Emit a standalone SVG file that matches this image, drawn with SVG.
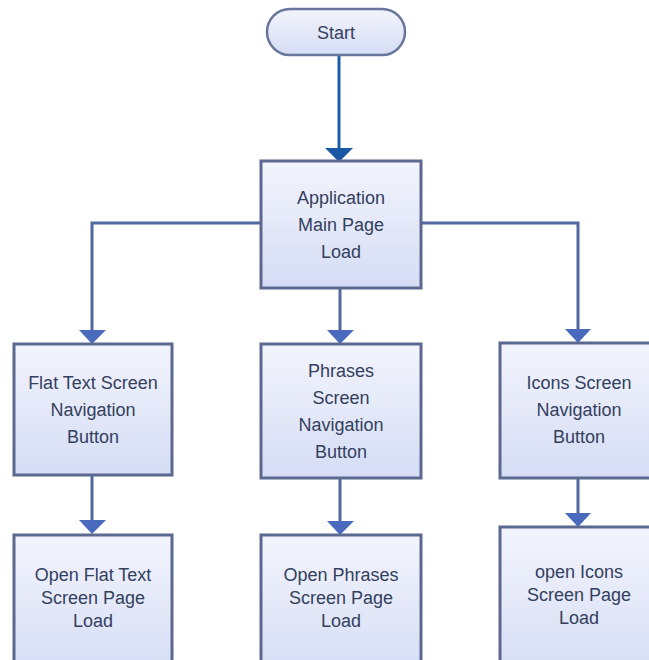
<svg xmlns="http://www.w3.org/2000/svg" width="649" height="660" viewBox="0 0 649 660">
  <defs>
    <linearGradient id="boxFill" x1="0" y1="0" x2="0" y2="1">
      <stop offset="0" stop-color="#f3f4fc"/>
      <stop offset="1" stop-color="#d5ddf5"/>
    </linearGradient>
    <style>
      .box { fill: url(#boxFill); stroke: #5b6890; stroke-width: 3; }
      .term { fill: url(#boxFill); stroke: #69769c; stroke-width: 2.5; }
      .lbl { font-family: "Liberation Sans", Arial, sans-serif; font-size: 18px; fill: #33405e; text-anchor: middle; }
      .wire { fill: none; stroke: #52689f; stroke-width: 3; }
      .head { fill: #4a6bbd; }
      .wire-dark { fill: none; stroke: #1f5ca6; stroke-width: 3; }
      .head-dark { fill: #1b58a4; }
    </style>
  </defs>
  <rect width="649" height="660" fill="#ffffff"/>

  <g id="connectors">
    <!-- start to main page -->
    <line class="wire-dark" x1="339" y1="55" x2="339" y2="150"/>
    <polygon class="head-dark" points="325,148 353,148 339,162"/>
    <!-- main page to the three navigation buttons -->
    <line class="wire" x1="340" y1="288" x2="340" y2="332"/>
    <polygon class="head" points="327,330 354,330 340,344"/>
    <polyline class="wire" points="261,223 92,223 92,332"/>
    <polygon class="head" points="79,330 106,330 92,344"/>
    <polyline class="wire" points="421,223 578,223 578,331"/>
    <polygon class="head" points="565,329 591,329 578,343"/>
    <!-- navigation buttons to page loads -->
    <line class="wire" x1="92" y1="475" x2="92" y2="522"/>
    <polygon class="head" points="79,520 106,520 92,534"/>
    <line class="wire" x1="340" y1="478" x2="340" y2="523"/>
    <polygon class="head" points="327,521 354,521 340,535"/>
    <line class="wire" x1="578" y1="478" x2="578" y2="515"/>
    <polygon class="head" points="565,513 591,513 578,527"/>
  </g>

  <g id="start">
    <rect class="term" x="267" y="9" width="138" height="46" rx="23" ry="23"/>
    <text class="lbl" x="336" y="39">Start</text>
  </g>

  <g id="main-page">
    <rect class="box" x="261" y="161" width="160" height="127"/>
    <text class="lbl" x="341" y="204"><tspan x="341">Application</tspan><tspan x="341" dy="27">Main Page</tspan><tspan x="341" dy="27">Load</tspan></text>
  </g>

  <g id="flat-text-nav">
    <rect class="box" x="14" y="344" width="158" height="131"/>
    <text class="lbl" x="93" y="389"><tspan x="93">Flat Text Screen</tspan><tspan x="93" dy="27">Navigation</tspan><tspan x="93" dy="27">Button</tspan></text>
  </g>

  <g id="phrases-nav">
    <rect class="box" x="261" y="344" width="160" height="134"/>
    <text class="lbl" x="341" y="377"><tspan x="341">Phrases</tspan><tspan x="341" dy="27">Screen</tspan><tspan x="341" dy="27">Navigation</tspan><tspan x="341" dy="27">Button</tspan></text>
  </g>

  <g id="icons-nav">
    <rect class="box" x="500" y="343" width="160" height="135"/>
    <text class="lbl" x="579" y="389"><tspan x="579">Icons Screen</tspan><tspan x="579" dy="27">Navigation</tspan><tspan x="579" dy="27">Button</tspan></text>
  </g>

  <g id="flat-text-open">
    <rect class="box" x="14" y="535" width="158" height="140"/>
    <text class="lbl" x="93" y="581"><tspan x="93">Open Flat Text</tspan><tspan x="93" dy="23">Screen Page</tspan><tspan x="93" dy="23">Load</tspan></text>
  </g>

  <g id="phrases-open">
    <rect class="box" x="261" y="535" width="160" height="140"/>
    <text class="lbl" x="341" y="581"><tspan x="341">Open Phrases</tspan><tspan x="341" dy="23">Screen Page</tspan><tspan x="341" dy="23">Load</tspan></text>
  </g>

  <g id="icons-open">
    <rect class="box" x="500" y="527" width="160" height="150"/>
    <text class="lbl" x="579" y="578"><tspan x="579">open Icons</tspan><tspan x="579" dy="23">Screen Page</tspan><tspan x="579" dy="23">Load</tspan></text>
  </g>
</svg>
